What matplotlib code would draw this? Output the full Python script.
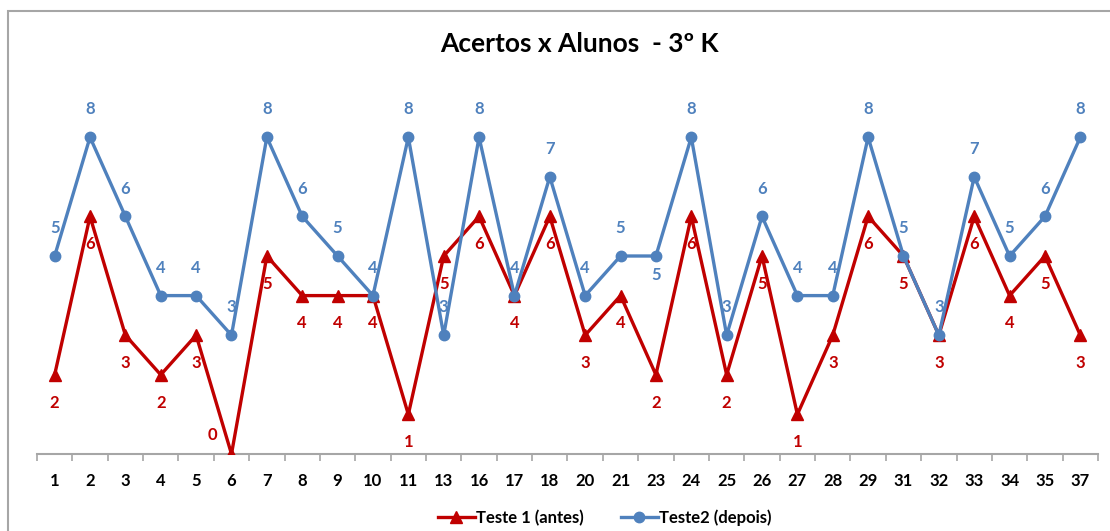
import numpy as np
import matplotlib.pyplot as plt
from matplotlib.patches import Rectangle

alunos = ['1', '2', '3', '4', '5', '6', '7', '8', '9', '10', '11', '13', '16', '17', '18',
          '20', '21', '23', '24', '25', '26', '27', '28', '29', '31', '32', '33', '34', '35', '37']
teste1 = [2, 6, 3, 2, 3, 0, 5, 4, 4, 4, 1, 5, 6, 4, 6, 3, 4, 2, 6, 2, 5, 1, 3, 6, 5, 3, 6, 4, 5, 3]
teste2 = [5, 8, 6, 4, 4, 3, 8, 6, 5, 4, 8, 3, 8, 4, 7, 4, 5, 5, 8, 3, 6, 4, 4, 8, 5, 3, 7, 5, 6, 8]

RED = '#C00000'
BLUE = '#4F81BD'
GRAY = '#A6A6A6'

plt.rcParams['font.family'] = ['Lato', 'DejaVu Sans']

fig = plt.figure(figsize=(11.1, 5.31), dpi=100)
ax = fig.add_axes([0.0333, 0.1450, 0.9559, 0.6712])

x = np.arange(len(alunos))
ax.plot(x, teste1, color=RED, lw=2.4, marker='^', ms=8, label='Teste 1 (antes)', zorder=3)
ax.plot(x, teste2, color=BLUE, lw=2.4, marker='o', ms=7.5, label='Teste2 (depois)', zorder=4)

# value labels: red below the point, blue above
for xi, v in zip(x, teste1):
    if v == 0:
        ax.annotate(str(v), (xi, v), xytext=(-14, 14), textcoords='offset points',
                    ha='center', va='center', color=RED, fontsize=12, fontweight='bold')
    else:
        ax.annotate(str(v), (xi, v), xytext=(0, -20), textcoords='offset points',
                    ha='center', va='center', color=RED, fontsize=12, fontweight='bold')
for i, (xi, v) in enumerate(zip(x, teste2)):
    dy = -14 if alunos[i] == '23' else 20
    ax.annotate(str(v), (xi, v), xytext=(0, dy), textcoords='offset points',
                ha='center', va='center', color=BLUE, fontsize=12, fontweight='bold')

ax.set_xlim(-0.5, len(alunos) - 0.5)
ax.set_ylim(0, 9)
ax.set_xticks(x)
ax.set_xticklabels(alunos, fontsize=12, fontweight='bold')
ax.set_xticks(np.arange(-0.5, len(alunos)), minor=True)
ax.tick_params(axis='x', which='major', length=0, pad=14)
ax.tick_params(axis='x', which='minor', length=5, width=1.2, color=GRAY)
ax.set_yticks([])
for side in ['left', 'right', 'top']:
    ax.spines[side].set_visible(False)
ax.spines['bottom'].set_color(GRAY)
ax.spines['bottom'].set_linewidth(1.5)
ax.patch.set_alpha(0)

fig.suptitle('Acertos x Alunos  - 3º K', x=0.522, y=0.94, fontsize=19, fontweight='bold')

fig.legend(loc='center', bbox_to_anchor=(0.545, 0.025), ncol=2, frameon=False,
           prop={'size': 12, 'weight': 'bold'}, handlelength=2.2, handletextpad=0.1,
           columnspacing=2.2)

# outer chart border
fig.patches.append(Rectangle((0.0072, -0.1), 1.1, 1.079, transform=fig.transFigure,
                             fill=False, edgecolor=GRAY, lw=1.5))

fig.savefig('out.png', dpi=100)
